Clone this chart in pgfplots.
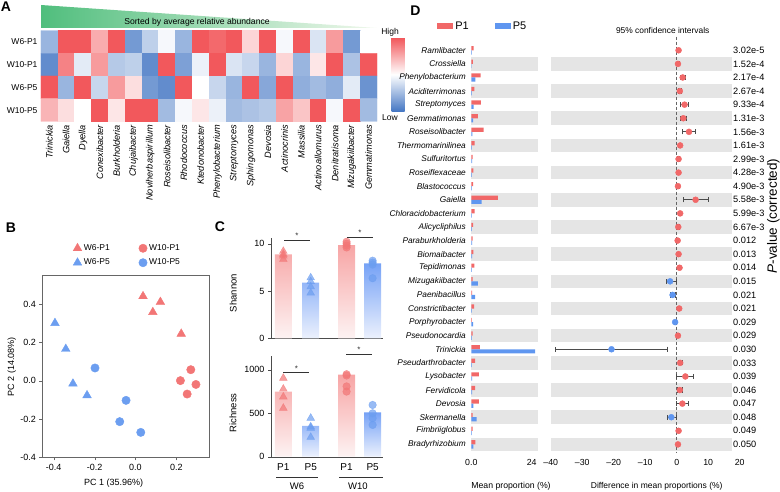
\documentclass[border=0pt]{standalone}
\usepackage{fontspec}
\setmainfont{Liberation Sans}
\usepackage{pgfplots}
\pgfplotsset{compat=1.18}
\pgfplotsset{/pgf/number format/assume math mode=true}
\definecolor{pred}{RGB}{242,118,118}
\definecolor{pblue}{RGB}{108,158,240}
\definecolor{barred}{RGB}{247,165,165}
\definecolor{barredlo}{RGB}{253,243,243}
\definecolor{barblue}{RGB}{118,162,246}
\definecolor{barbluelo}{RGB}{236,241,253}
\definecolor{dred}{RGB}{241,104,104}
\definecolor{dblue}{RGB}{95,150,240}
\definecolor{band}{RGB}{229,229,229}
\definecolor{gtri}{RGB}{80,190,125}
\definecolor{gtrilo}{RGB}{240,248,236}
\newcommand{\fs}[1]{\fontsize{#1}{#1}\selectfont}

\begin{document}
\begin{tikzpicture}[x=1pt,y=1pt]
\useasboundingbox (0,0) rectangle (780,491);

% panel letters
\node[font=\fs{14}\bfseries] at (6,484) {A};
\node[font=\fs{14}\bfseries] at (11,263) {B};
\node[font=\fs{14}\bfseries] at (220,264) {C};
\node[font=\fs{14}\bfseries] at (415.5,480) {D};

% ---------------- Panel A ----------------
\shade[left color=gtri, right color=gtrilo] (41,486) -- (41,463) -- (377,463) -- cycle;
\node[font=\fs{8.6}] at (197,468.3) {Sorted by average relative abundance};

\begin{axis}[
  at={(41pt,460.5pt)}, anchor=north west, scale only axis,
  width=336pt, height=91pt,
  xmin=-0.5, xmax=19.5, ymin=-0.5, ymax=3.5, y dir=reverse,
  enlargelimits=false,
  axis line style={draw=none}, tick style={draw=none},
  xtick={0,...,19},
  xticklabels={Trinickia,Gaiella,Dyella,Conexibacter,Burkholderia,Chujaibacter,Noviherbaspirillum,Roseisolibacter,Rhodococcus,Ktedonobacter,Phenylobacterium,Streptomyces,Sphingomonas,Devosia,Actinocrinis,Massilia,Actinoallomurus,Denitratisoma,Mizugakiibacter,Gemmatimonas},
  xticklabel style={rotate=90, anchor=east, font=\fs{9.2}\itshape},
  ytick={0,...,3}, yticklabels={W6-P1,W10-P1,W6-P5,W10-P5},
  yticklabel style={font=\fs{8.5}},
  colormap={hm}{rgb255=(70,120,196) rgb255=(255,255,255) rgb255=(242,88,92)},
  point meta min=-1, point meta max=1,
  colorbar,
  colorbar style={at={(parent axis.north east)}, anchor=north west,
    xshift=6pt, yshift=-7.5pt, width=13pt, height=73pt,
    ytick=\empty, xtick=\empty, axis line style={draw=none}},
]
\addplot[matrix plot*, mesh/cols=20, point meta=explicit] table[meta=c]{
x y c
0 0 -0.55
1 0 1
2 0 1
3 0 0.5
4 0 1
5 0 -0.75
6 0 -0.35
7 0 -0.05
8 0 -0.55
9 0 1
10 0 0.9
11 0 1
12 0 0.25
13 0 1
14 0 -0.05
15 0 1
16 0 -0.2
17 0 0.6
18 0 -0.75
19 0 0
0 1 -0.85
1 1 0.75
2 1 -0.15
3 1 0.6
4 1 -0.4
5 1 -0.35
6 1 -0.85
7 1 1
8 1 -0.7
9 1 -0.1
10 1 1
11 1 -0.2
12 1 -0.3
13 1 -0.55
14 1 0.25
15 1 -0.55
16 1 0.15
17 1 1
18 1 -0.45
19 1 1
0 2 1
1 2 -0.55
2 2 1
3 2 -0.3
4 2 0.6
5 2 0.2
6 2 -0.75
7 2 -0.85
8 2 1
9 2 0
10 2 -0.3
11 2 -0.55
12 2 1
13 2 -0.65
14 2 1
15 2 -0.6
16 2 -0.5
17 2 -0.6
18 2 -0.15
19 2 -0.8
0 3 0.45
1 3 0.2
2 3 0
3 3 1
4 3 0.15
5 3 1
6 3 1
7 3 -0.5
8 3 -0.05
9 3 0.15
10 3 -0.1
11 3 -0.5
12 3 -0.45
13 3 -0.4
14 3 0.55
15 3 0.35
16 3 1
17 3 -0.05
18 3 1
19 3 -0.5
};
\end{axis}
\node[font=\fs{8.5}] at (390,459) {High};
\node[font=\fs{8.5}] at (390,373) {Low};

% ---------------- Panel B ----------------
\begin{axis}[
  at={(42.3pt,33.7pt)}, anchor=south west, scale only axis,
  width=166.7pt, height=182.3pt,
  xmin=-0.456, xmax=0.36, ymin=-0.4, ymax=0.551,
  axis line style={black!60}, tick style={black!60},
  tick align=outside, major tick length=3pt,
  xtick pos=bottom, ytick pos=left,
  xtick={-0.4,-0.2,0,0.2}, xticklabels={-0.4,-0.2,0.0,0.2},
  ytick={-0.4,-0.2,0,0.2,0.4}, yticklabels={-0.4,-0.2,0.0,0.2,0.4},
  ticklabel style={font=\fs{9}},
  legend columns=2,
  legend style={at={(0.166,1.19)}, anchor=north west, draw=none, fill=none,
    font=\fs{8.5}, row sep=3pt, /tikz/every even column/.append style={column sep=27pt}},
]
\addplot[only marks, mark=triangle*, mark size=5pt, mark options={draw=pred, fill=pred}] coordinates {(0.037,0.44) (0.122,0.41) (0.085,0.357) (0.224,0.244)};
\addlegendentry{W6-P1}
\addplot[only marks, mark=*, mark size=4.2pt, mark options={draw=pred, fill=pred}] coordinates {(0.271,0.057) (0.22,0.0) (0.296,-0.02) (0.253,-0.07)};
\addlegendentry{W10-P1}
\addplot[only marks, mark=triangle*, mark size=5pt, mark options={draw=pblue, fill=pblue}] coordinates {(-0.394,0.30) (-0.341,0.165) (-0.306,-0.016) (-0.237,-0.077)};
\addlegendentry{W6-P5}
\addplot[only marks, mark=*, mark size=4.2pt, mark options={draw=pblue, fill=pblue}] coordinates {(-0.198,0.066) (-0.046,-0.103) (-0.077,-0.214) (0.026,-0.27)};
\addlegendentry{W10-P5}
\end{axis}
\node[font=\fs{9}] at (113.7,8) {PC 1 (35.96\%)};
\node[font=\fs{9}, rotate=90] at (11.7,124.3) {PC 2 (14.08\%)};

% ---------------- Panel C ----------------
\begin{axis}[
  at={(271pt,152.7pt)}, anchor=south west, scale only axis,
  width=112.3pt, height=100.3pt,
  xmin=0.55, xmax=4.65, ymin=0, ymax=10.6,
  axis lines=left, axis line style={-, black!70},
  tick style={black!70}, tick align=outside, major tick length=3pt,
  xtick=\empty, ytick={0,5,10},
  ticklabel style={font=\fs{9}},
  clip=false,
]
\addplot[ybar, bar width=17pt, bar shift=0pt, draw=none, top color=barred, bottom color=barredlo] coordinates {(1,8.87) (3.31,9.85)};
\addplot[ybar, bar width=17pt, bar shift=0pt, draw=none, top color=barblue, bottom color=barbluelo] coordinates {(2,5.88) (4.26,7.92)};
\addplot[only marks, mark=triangle*, mark size=4.5pt, mark options={draw=pred, fill=pred, opacity=0.7}] coordinates {(1,9.2) (1,8.9) (1,8.7) (1,8.35)};
\addplot[only marks, mark=triangle*, mark size=4.5pt, mark options={draw=pblue, fill=pblue, opacity=0.7}] coordinates {(2,6.4) (2,6.0) (2,5.45) (2,4.8)};
\addplot[only marks, mark=*, mark size=3.8pt, mark options={draw=pred, fill=pred, opacity=0.7}] coordinates {(3.31,10.2) (3.31,10.0) (3.31,9.8) (3.31,9.6)};
\addplot[only marks, mark=*, mark size=3.8pt, mark options={draw=pblue, fill=pblue, opacity=0.7}] coordinates {(4.26,8.2) (4.26,8.0) (4.26,7.8) (4.26,6.35)};
\draw[black!80] (axis cs:1.03,10.38) -- (axis cs:1.97,10.38) node[midway, above, font=\fs{8}, inner sep=1pt] {*};
\draw[black!80] (axis cs:3.33,10.73) -- (axis cs:4.26,10.73) node[midway, above, font=\fs{8}, inner sep=1pt] {*};
\end{axis}
\node[font=\fs{9.5}, rotate=90] at (233.3,198) {Shannon};

\begin{axis}[
  at={(271pt,34.3pt)}, anchor=south west, scale only axis,
  width=112.3pt, height=100.7pt,
  xmin=0.55, xmax=4.65, ymin=0, ymax=1160,
  axis lines=left, axis line style={-, black!70},
  tick style={black!70}, tick align=outside, major tick length=3pt,
  xtick={1,2,3.31,4.26}, xticklabels={P1,P5,P1,P5},
  x tick style={draw=none},
  ytick={0,500,1000}, yticklabels={0,500,1000},
  yticklabel style={font=\fs{9}},
  xticklabel style={font=\fs{10}},
  clip=false,
]
\addplot[ybar, bar width=17pt, bar shift=0pt, draw=none, top color=barred, bottom color=barredlo] coordinates {(1,751) (3.31,945)};
\addplot[ybar, bar width=17pt, bar shift=0pt, draw=none, top color=barblue, bottom color=barbluelo] coordinates {(2,354) (4.26,512)};
\addplot[only marks, mark=triangle*, mark size=4.5pt, mark options={draw=pred, fill=pred, opacity=0.7}] coordinates {(1,905) (1,780) (1,690) (1,560)};
\addplot[only marks, mark=triangle*, mark size=4.5pt, mark options={draw=pblue, fill=pblue, opacity=0.7}] coordinates {(2,445) (2,345) (2,330) (2,225)};
\addplot[only marks, mark=*, mark size=3.8pt, mark options={draw=pred, fill=pred, opacity=0.7}] coordinates {(3.31,950) (3.31,935) (3.31,810) (3.31,750)};
\addplot[only marks, mark=*, mark size=3.8pt, mark options={draw=pblue, fill=pblue, opacity=0.7}] coordinates {(4.26,596) (4.26,500) (4.26,443) (4.26,366)};
\draw[black!80] (axis cs:1.0,969) -- (axis cs:1.95,969) node[midway, above, font=\fs{8}, inner sep=1pt] {*};
\draw[black!80] (axis cs:3.3,1185) -- (axis cs:4.22,1185) node[midway, above, font=\fs{8}, inner sep=1pt] {*};
\end{axis}
\node[font=\fs{9.5}, rotate=90] at (233,78) {Richness};
\draw[black!80] (276,13.5) -- (318,13.5);
\draw[black!80] (339,13.5) -- (383,13.5);
\node[font=\fs{9.5}] at (297,5) {W6};
\node[font=\fs{9.5}] at (358,5) {W10};

% ---------------- Panel D ----------------
\begin{axis}[
  at={(471.3pt,39.8pt)}, anchor=south west, scale only axis,
  width=66.4pt, height=407.7pt,
  xmin=0, xmax=26.4, ymin=0.5, ymax=30.5, y dir=reverse,
  axis line style={draw=none}, tick style={draw=none},
  xtick={0,24}, xticklabels={0.0,24},
  xticklabel style={font=\fs{8.8}, yshift=-5pt},
  ytick={1,...,30},
  yticklabels={Ramlibacter,Crossiella,Phenylobacterium,Aciditerrimonas,Streptomyces,Gemmatimonas,Roseisolibacter,Thermomarinilinea,Sulfuritortus,Roseiflexaceae,Blastococcus,Gaiella,Chloracidobacterium,Alicycliphilus,Paraburkholderia,Biomaibacter,Tepidimonas,Mizugakiibacter,Paenibacillus,Constrictibacter,Porphyrobacter,Pseudonocardia,Trinickia,Pseudarthrobacter,Lysobacter,Fervidicola,Devosia,Skermanella,Fimbriiglobus,Bradyrhizobium},
  yticklabel style={font=\fs{8.3}\itshape, xshift=-2pt},
  clip=false,
  legend columns=2,
  legend style={at={(-0.56,1.042)}, anchor=west, draw=none, fill=none,
    font=\fs{11}, /tikz/every even column/.append style={column sep=24pt}},
]
\pgfplotsinvokeforeach{2,4,...,30}{
  \fill[band] ([yshift=6.795pt]axis cs:0,#1) rectangle ([yshift=-6.795pt]axis cs:26.4,#1);
}
\addplot[xbar, bar width=4.2pt, bar shift=2.1pt, draw=none, fill=dred,
  legend image code/.code={\fill[dred] (0pt,-3pt) rectangle (16pt,3pt);}] table[x=p1, y=r]{
r p1
1 0.93
2 0.66
3 3.7
4 1.2
5 3.8
6 2.6
7 4.9
8 1.3
9 0.5
10 0.8
11 0.7
12 10.6
13 1.3
14 0.7
15 0.5
16 0.8
17 1.2
18 0.5
19 0.3
20 1.1
21 0.2
22 0.5
23 3.4
24 1.5
25 3.0
26 1.5
27 3.0
28 0.5
29 0.5
30 1.6
};
\addlegendentry{P1}
\addplot[xbar, bar width=4.2pt, bar shift=-2.1pt, draw=none, fill=dblue,
  legend image code/.code={\fill[dblue] (0pt,-3pt) rectangle (16pt,3pt);}] table[x=p5, y=r]{
r p5
1 0.2
2 0.1
3 1.6
4 0.2
5 0.9
6 0.7
7 0.4
8 0.2
9 0.3
10 0.2
11 0.2
12 4.1
13 0.2
14 0.2
15 0.3
16 0.3
17 0.2
18 2.6
19 1.5
20 0.2
21 0.7
22 0.2
23 25.4
24 0.2
25 0.3
26 0.3
27 0.8
28 2.1
29 0.2
30 0.8
};
\addlegendentry{P5}
\end{axis}

\begin{axis}[
  at={(550.7pt,39.8pt)}, anchor=south west, scale only axis,
  width=189pt, height=407.7pt,
  xmin=-40, xmax=20, ymin=0.5, ymax=30.5, y dir=reverse,
  axis line style={draw=none}, tick style={draw=none},
  xtick={-40,-30,...,20}, xticklabels={--40,--30,--20,--10,0,10,20},
  xticklabel style={font=\fs{8.8}, yshift=-5pt},
  ytick={1,...,30}, yticklabel pos=right,
  yticklabels={3.02e-5,1.52e-4,2.17e-4,2.67e-4,9.33e-4,1.31e-3,1.56e-3,1.61e-3,2.99e-3,4.28e-3,4.90e-3,5.58e-3,5.99e-3,6.67e-3,0.012,0.013,0.014,0.015,0.021,0.021,0.029,0.029,0.030,0.033,0.039,0.046,0.047,0.048,0.049,0.050},
  yticklabel style={font=\fs{9.2}, anchor=west, xshift=-10pt},
  clip=false,
]
\pgfplotsinvokeforeach{2,4,...,30}{
  \fill[band] ([yshift=6.795pt]axis cs:-40,#1) rectangle ([yshift=-6.795pt]axis cs:17.5,#1);
}
\draw[black!60, dash pattern=on 3pt off 2pt] (axis cs:0,0.0) -- (axis cs:0,30.6);
\addplot[only marks, mark=*, mark size=3pt, mark options={draw=dred, fill=dred},
  error bars/.cd, x dir=both, x explicit,
  error bar style={black!70, line width=0.8pt},
  error mark options={rotate=90, black!70, mark size=2.6pt, line width=0.8pt}]
  table[x=d, y=r, x error minus=em, x error plus=ep]{
r d em ep
1 0.6 0.3 0.3
2 0.4 0.3 0.3
3 1.9 0.8 0.8
4 1.0 0.4 0.4
5 2.5 1.2 1.3
6 2.1 1.0 1.1
7 3.9 2.1 1.9
8 1.1 0.5 0.5
9 0.6 0.3 0.3
10 0.6 0.3 0.3
11 0.4 0.3 0.3
12 6.0 4.0 4.1
13 1.1 0.5 0.5
14 0.5 0.3 0.3
15 0.3 0.2 0.2
16 0.6 0.3 0.3
17 0.9 0.4 0.4
20 0.8 0.5 0.5
22 0.4 0.3 0.3
24 1.1 0.6 0.6
25 2.75 2.7 2.55
26 1.0 0.8 0.8
27 1.8 1.8 1.8
29 0.6 0.3 0.3
30 0.4 0.3 0.3
};
\addplot[only marks, mark=*, mark size=3pt, mark options={draw=dblue, fill=dblue},
  error bars/.cd, x dir=both, x explicit,
  error bar style={black!70, line width=0.8pt},
  error mark options={rotate=90, black!70, mark size=2.6pt, line width=0.8pt}]
  table[x=d, y=r, x error minus=em, x error plus=ep]{
r d em ep
18 -2.1 1.3 2.0
19 -1.3 0.8 0.9
21 -0.5 0.3 0.3
23 -20.7 17.9 17.9
28 -1.7 1.3 1.7
};
\end{axis}
\node[font=\fs{8.4}] at (662.7,461) {95\% confidence intervals};
\node[font=\fs{8.7}] at (511,5) {Mean proportion (\%)};
\node[font=\fs{8.5}] at (656.7,5) {Difference in mean proportions (\%)};
\node[font=\fs{13.5}, rotate=90] at (773.5,275) {\textit{P}-value (corrected)};

\end{tikzpicture}
\end{document}
